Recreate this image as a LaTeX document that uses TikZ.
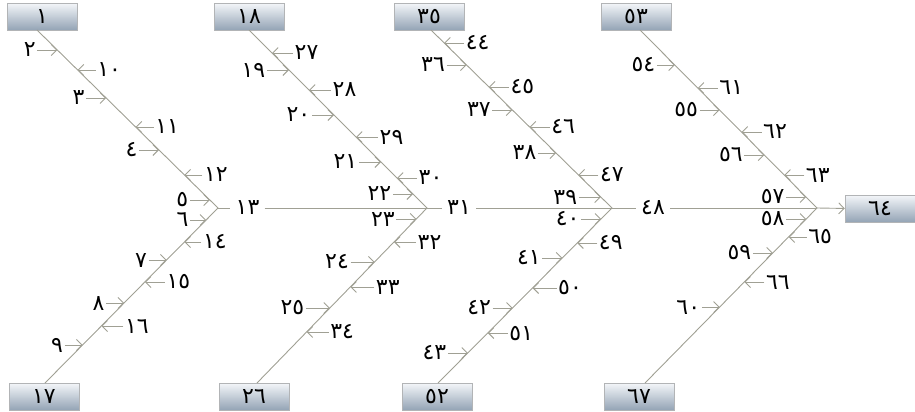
\documentclass[tikz,border=0pt]{standalone}
\usepackage{fontspec}
\newfontfamily\arabicfont[Script=Arabic]{DejaVu Sans}
\usetikzlibrary{arrows.meta,calc}
\definecolor{bonec}{RGB}{160,160,148}
\definecolor{boxtop}{RGB}{242,245,248}
\definecolor{boxbot}{RGB}{146,162,180}
\definecolor{boxline}{RGB}{178,180,182}
% #1,#2 bone ends, #3 y, #4 arrow length, #5 text, #6 name
\newcommand\ArrL[6]{%
  \coordinate (p#6) at (intersection of #1--#2 and 0,#3--10,#3);
  \node[lbl, anchor=east] (#6) at ($(p#6)+(-#4,0)$) {#5};
  \draw[sarr] (#6.east) -- (p#6);}
\newcommand\ArrR[6]{%
  \coordinate (p#6) at (intersection of #1--#2 and 0,#3--10,#3);
  \node[lbl, anchor=west] (#6) at ($(p#6)+(#4,0)$) {#5};
  \draw[sarr] (#6.west) -- (p#6);}
\begin{document}
\begin{tikzpicture}[x=1pt,y=-1pt,
  bone/.style={draw=bonec, line width=0.9pt},
  sarr/.style={draw=bonec, line width=0.9pt, -{Straight Barb[length=5.5pt,width=11pt]}},
  lbl/.style={font=\arabicfont\fontsize{22}{26}\selectfont, inner xsep=1.5pt, inner ysep=0pt},
  box/.style={draw=boxline, top color=boxtop, bottom color=boxbot, minimum width=70, minimum height=27, inner sep=0pt, font=\arabicfont\fontsize{22}{26}\selectfont},
  spl/.style={lbl, fill=white, minimum width=34, inner ysep=1pt}]
\useasboundingbox (0,0) rectangle (915,412);
% boxes
\node[box] (B1) at (42,17) {١};
\node[box] (B18) at (249,17) {١٨};
\node[box] (B35) at (429,17) {٣٥};
\node[box] (B53) at (636,17) {٥٣};
\node[box] (B17) at (44,397) {١٧};
\node[box] (B26) at (254,397) {٢٦};
\node[box] (B52) at (437,397) {٥٢};
\node[box] (B67) at (639,397) {٦٧};
\node[box] (B64) at (880,209) {٦٤};
% bone coordinates
\coordinate (t1) at (37,30); \coordinate (j1) at (218,208); \coordinate (b1) at (45,383);
\coordinate (t2) at (249,30); \coordinate (j2) at (427,208); \coordinate (b2) at (257,383);
\coordinate (t3) at (431,30); \coordinate (j3) at (612,208); \coordinate (b3) at (438,383);
\coordinate (t4) at (640,30); \coordinate (j4) at (817,208); \coordinate (b4) at (645,383);
\draw[bone] (t1) -- (j1) -- (b1);
\draw[bone] (t2) -- (j2) -- (b2);
\draw[bone] (t3) -- (j3) -- (b3);
\draw[bone] (t4) -- (j4) -- (b4);
% spine
\node[spl] (s13) at (247.5,208) {١٣};
\node[spl] (s31) at (459,208) {٣١};
\node[spl] (s48) at (653,208) {٤٨};
\draw[bone] (j1) -- (s13) -- (j2);
\draw[bone] (j2) -- (s31) -- (j3);
\draw[bone] (j3) -- (s48) -- (j4);
\draw[sarr] (j4) -- (B64);
% branch 1 upper
\ArrL{t1}{j1}{50}{20}{٢}{n2}
\ArrL{t1}{j1}{98}{20}{٣}{n3}
\ArrL{t1}{j1}{150}{20}{٤}{n4}
\ArrL{t1}{j1}{200}{20}{٥}{n5}
\ArrR{t1}{j1}{70}{18}{١٠}{n10}
\ArrR{t1}{j1}{127}{18}{١١}{n11}
\ArrR{t1}{j1}{175}{18}{١٢}{n12}
% branch 1 lower
\ArrL{j1}{b1}{220}{16}{٦}{n6}
\ArrL{j1}{b1}{260}{18}{٧}{n7}
\ArrL{j1}{b1}{303}{18}{٨}{n8}
\ArrL{j1}{b1}{345}{18}{٩}{n9}
\ArrR{j1}{b1}{242}{17}{١٤}{n14}
\ArrR{j1}{b1}{282}{20}{١٥}{n15}
\ArrR{j1}{b1}{326}{22}{١٦}{n16}
% branch 2 upper
\ArrR{t2}{j2}{53}{21}{٢٧}{n27}
\ArrR{t2}{j2}{90}{22}{٢٨}{n28}
\ArrR{t2}{j2}{137}{22}{٢٩}{n29}
\ArrR{t2}{j2}{178}{20}{٣٠}{n30}
\ArrL{t2}{j2}{70}{22}{١٩}{n19}
\ArrL{t2}{j2}{115}{22}{٢٠}{n20}
\ArrL{t2}{j2}{162}{22}{٢١}{n21}
\ArrL{t2}{j2}{194}{20}{٢٢}{n22}
% branch 2 lower
\ArrL{j2}{b2}{219}{20}{٢٣}{n23}
\ArrL{j2}{b2}{262}{24}{٢٤}{n24}
\ArrL{j2}{b2}{308}{24}{٢٥}{n25}
\ArrR{j2}{b2}{242}{22}{٣٢}{n32}
\ArrR{j2}{b2}{287}{24}{٣٣}{n33}
\ArrR{j2}{b2}{332}{22}{٣٤}{n34}
% branch 3 upper
\ArrR{t3}{j3}{43}{20}{٤٤}{n44}
\ArrR{t3}{j3}{87}{20}{٤٥}{n45}
\ArrR{t3}{j3}{127}{20}{٤٦}{n46}
\ArrR{t3}{j3}{175}{20}{٤٧}{n47}
\ArrL{t3}{j3}{65}{20}{٣٦}{n36}
\ArrL{t3}{j3}{110}{20}{٣٧}{n37}
\ArrL{t3}{j3}{153}{18}{٣٨}{n38}
\ArrL{t3}{j3}{197}{22}{٣٩}{n39}
% branch 3 lower
\ArrL{j3}{b3}{219}{20}{٤٠}{n40}
\ArrL{j3}{b3}{258}{20}{٤١}{n41}
\ArrL{j3}{b3}{308}{20}{٤٢}{n42}
\ArrL{j3}{b3}{353}{20}{٤٣}{n43}
\ArrR{j3}{b3}{243}{20}{٤٩}{n49}
\ArrR{j3}{b3}{288}{24}{٥٠}{n50}
\ArrR{j3}{b3}{333}{20}{٥١}{n51}
% branch 4 upper
\ArrL{t4}{j4}{65}{18}{٥٤}{n54}
\ArrL{t4}{j4}{110}{20}{٥٥}{n55}
\ArrL{t4}{j4}{155}{20}{٥٦}{n56}
\ArrL{t4}{j4}{197}{20}{٥٧}{n57}
\ArrR{t4}{j4}{88}{20}{٦١}{n61}
\ArrR{t4}{j4}{132}{20}{٦٢}{n62}
\ArrR{t4}{j4}{175}{20}{٦٣}{n63}
% branch 4 lower
\ArrL{j4}{b4}{219}{20}{٥٨}{n58}
\ArrL{j4}{b4}{253}{20}{٥٩}{n59}
\ArrL{j4}{b4}{307}{18}{٦٠}{n60}
\ArrR{j4}{b4}{237}{18}{٦٥}{n65}
\ArrR{j4}{b4}{282}{20}{٦٦}{n66}
\end{tikzpicture}
\end{document}
